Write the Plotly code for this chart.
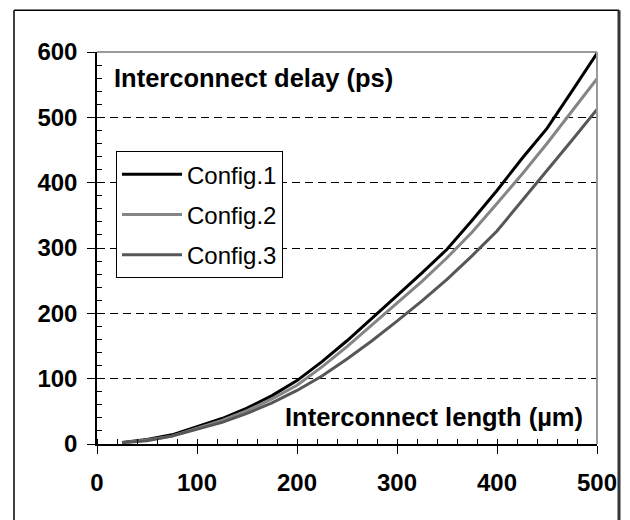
import plotly.graph_objects as go

# Data
length_um = [25, 50, 75, 100, 125, 150, 175, 200, 225, 250, 275, 300, 325, 350, 375, 400, 425, 450, 475, 500]
config1 = [2.5, 7, 14, 27, 39, 55, 74, 97, 126, 158, 192, 227, 262, 298, 342, 388, 437, 483, 540, 598]
config2 = [2, 6, 12, 24, 36, 51, 69, 90, 118, 149, 182, 215, 249, 285, 324, 368, 413, 460, 510, 559]
config3 = [2, 5, 12, 22, 33, 47, 63, 82, 104, 130, 158, 188, 219, 252, 288, 326, 372, 418, 465, 512]
series_names = ["Config.1", "Config.2", "Config.3"]
series_colors = ["#000000", "#858585", "#575757"]
x_ticks = [0, 100, 200, 300, 400, 500]
y_ticks = [0, 100, 200, 300, 400, 500, 600]

FONT = "Liberation Sans, Arial, sans-serif"

fig = go.Figure()
for i, (name, ys, col) in enumerate(zip(series_names, [config1, config2, config3], series_colors)):
    fig.add_trace(go.Scatter(
        x=length_um, y=ys, mode="lines", name=name,
        line=dict(color=col, width=3),
        legendgroup=f"g{i}",
    ))

fig.update_layout(
    width=622, height=512,
    margin=dict(l=89, r=33, t=44, b=76),
    paper_bgcolor="white", plot_bgcolor="white",
    font=dict(family=FONT, color="black"),
    showlegend=True,
    legend=dict(
        x=0.038, y=0.747, xanchor="left", yanchor="top",
        bgcolor="white", bordercolor="black", borderwidth=1,
        font=dict(family=FONT, size=24, color="black"),
        traceorder="grouped", tracegroupgap=6, itemwidth=60,
    ),
    xaxis=dict(
        range=[0, 500], tickvals=x_ticks, ticktext=[str(v) for v in x_ticks],
        showgrid=False, zeroline=False,
        showline=True, linecolor="black", linewidth=1.5,
        ticks="outside", ticklen=8, tickwidth=1.2, tickcolor="black",
        tickfont=dict(family=FONT, size=24, weight="bold", color="black"),
        ticklabelstandoff=8,
        minor=dict(ticks="inside", ticklen=5, dtick=20, tickcolor="black", tickwidth=1, showgrid=False),
    ),
    yaxis=dict(
        range=[0, 600], tickvals=y_ticks, ticktext=[str(v) for v in y_ticks],
        showgrid=True, gridcolor="black", gridwidth=1, griddash="8px,5px",
        zeroline=False,
        showline=True, linecolor="black", linewidth=1.5,
        ticks="outside", ticklen=8, tickwidth=1.2, tickcolor="black",
        tickfont=dict(family=FONT, size=24, weight="bold", color="black"),
        ticklabelstandoff=5,
        minor=dict(ticks="inside", ticklen=5, dtick=20, tickcolor="black", tickwidth=1, showgrid=False),
    ),
    annotations=[
        dict(text="Interconnect delay (ps)", xref="paper", yref="paper", x=0.03, y=0.933,
             xanchor="left", yanchor="middle", showarrow=False,
             font=dict(family=FONT, size=25.5, weight="bold", color="black")),
        dict(text="Interconnect length (µm)", xref="paper", yref="paper", x=0.976, y=0.07,
             xanchor="right", yanchor="middle", showarrow=False,
             font=dict(family=FONT, size=25.5, weight="bold", color="black")),
    ],
    shapes=[
        # plot-area top and right border (gray)
        dict(type="line", xref="paper", yref="paper", x0=0, x1=1, y0=1, y1=1,
             line=dict(color="#9a9a9a", width=2), layer="above"),
        dict(type="line", xref="paper", yref="paper", x0=1, x1=1, y0=0, y1=1,
             line=dict(color="#9a9a9a", width=2), layer="above"),
        # outer frame
        dict(type="line", xref="paper", yref="paper", x0=-0.166, x1=1.044, y0=1.1063, y1=1.1063,
             line=dict(color="black", width=1.5)),
        dict(type="line", xref="paper", yref="paper", x0=-0.166, x1=-0.166, y0=-0.25, y1=1.1063,
             line=dict(color="black", width=1.5)),
        dict(type="line", xref="paper", yref="paper", x0=1.044, x1=1.044, y0=-0.25, y1=1.1063,
             line=dict(color="#333333", width=3)),
    ],
)

fig.write_html("out.html")
